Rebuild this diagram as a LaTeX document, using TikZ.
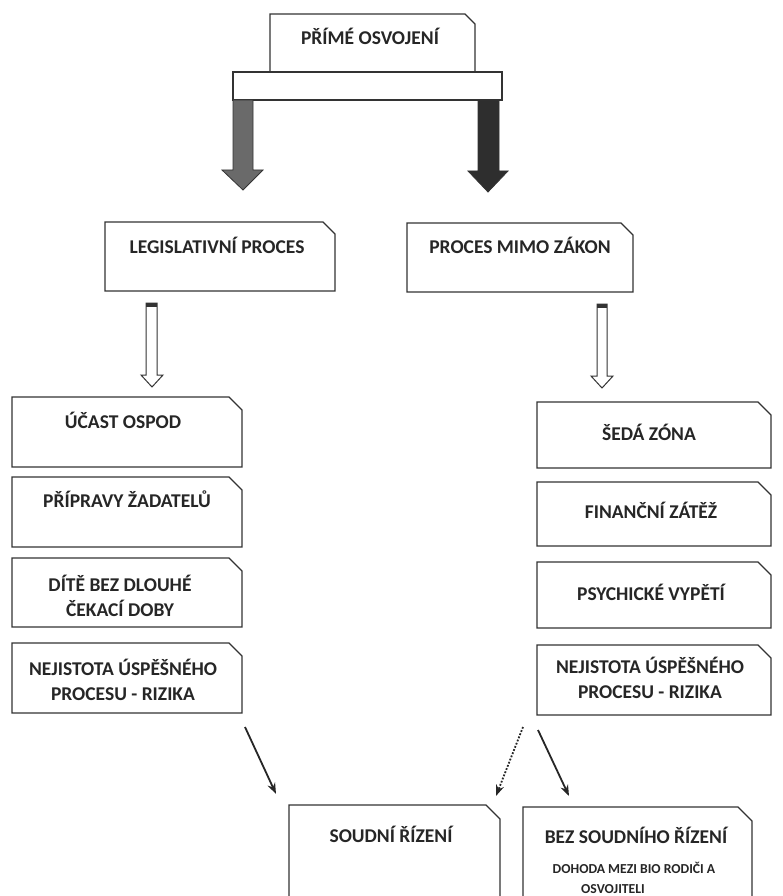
\documentclass[tikz,border=0pt]{standalone}
\usepackage{fontspec}
\setmainfont{Carlito}
\usetikzlibrary{arrows.meta,fit}
\definecolor{ink}{HTML}{333333}
\definecolor{arrL}{HTML}{6A6A6A}
\definecolor{arrR}{HTML}{2E2E2E}
\tikzset{
  boxline/.style={draw=ink, line width=1.3pt, line join=miter},
  lbl/.style={font=\fontsize{19.5}{23}\selectfont\bfseries, text=black!85, anchor=base, inner sep=0},
  smalllbl/.style={font=\fontsize{13.7}{16}\selectfont\bfseries, text=black!85, anchor=base, inner sep=0},
  area/.style={inner sep=0, draw=none},
  blockL/.style={draw=ink, line width=0.8pt, fill=arrL},
  blockR/.style={draw=ink, line width=0.8pt, fill=arrR},
  hollowarr/.style={draw=ink, line width=1pt, fill=white, line join=miter},
  capfill/.style={fill=ink},
  conn/.style={draw=black!85, line width=1.8pt, -{Stealth[length=11pt,width=8pt]}},
  dotconn/.style={draw=black!85, line width=1.8pt, dash pattern=on 1.8pt off 1.6pt, -{Stealth[length=11pt,width=8pt]}},
}
\newcommand\cutbox[6]{%
  \coordinate (#1-a) at (#2,#3); \coordinate (#1-b) at (#4,#5);
  \node[area, fit=(#1-a)(#1-b)] (#1) {};
  \draw[boxline] (#2,#5) -- (#2,#3) -- ({#4-#6},#3) -- (#4,{#3+#6}) -- (#4,#5) -- cycle;
}
\newcommand\openbox[6]{%
  \coordinate (#1-a) at (#2,#3); \coordinate (#1-b) at (#4,#5);
  \node[area, fit=(#1-a)(#1-b)] (#1) {};
  \draw[boxline] (#2,#5) -- (#2,#3) -- ({#4-#6},#3) -- (#4,{#3+#6}) -- (#4,#5);
}
\begin{document}
\begin{tikzpicture}[x=1pt,y=-1pt]
\fill[white] (0,0) rectangle (782,896);
\useasboundingbox (0,0) rectangle (782,896);

% top
\cutbox{top}{270}{14}{475}{72}{10}
\node[lbl] (toptxt) at (370,45) {PŘÍMÉ OSVOJENÍ};
\draw[boxline, fill=white] (233,72) rectangle (502,100);
\coordinate (bar-a) at (233,72); \coordinate (bar-b) at (502,100);
\node[area, fit=(bar-a)(bar-b)] (bar) {};

% big block arrows
\draw[blockL] (233,100) -- (253,100) -- (253,170) -- (263,170) -- (243,190) -- (222,170) -- (233,170) -- cycle;
\draw[blockR] (478,100) -- (499,100) -- (499,171) -- (508,171) -- (488,192) -- (468,171) -- (478,171) -- cycle;

% second row
\cutbox{leg}{105}{222}{335}{291}{12}
\node[lbl] (legtxt) at (217,253) {LEGISLATIVNÍ PROCES};
\cutbox{mimo}{407}{223}{633}{292}{12}
\node[lbl] (mimotxt) at (520,253) {PROCES MIMO ZÁKON};

% hollow arrows
\draw[hollowarr] (146,303) -- (157,303) -- (157,375) -- (163,375) -- (152,387) -- (141,375) -- (146,375) -- cycle;
\fill[capfill] (146,303) rectangle (157,307);
\draw[hollowarr] (597,304) -- (607,304) -- (607,376) -- (613,376) -- (602,388) -- (591,376) -- (597,376) -- cycle;
\fill[capfill] (597,304) rectangle (607,308);

% left column
\cutbox{l1}{12}{397}{242}{467}{13}
\node[lbl] (l1t) at (123,428) {ÚČAST OSPOD};
\cutbox{l2}{12}{477}{242}{547}{13}
\node[lbl] (l2t) at (127,507) {PŘÍPRAVY ŽADATELŮ};
\cutbox{l3}{12}{558}{242}{627}{13}
\node[lbl] (l3t) at (120,591) {DÍTĚ BEZ DLOUHÉ};
\node[lbl] (l3u) at (120,616) {ČEKACÍ DOBY};
\cutbox{l4}{12}{643}{242}{713}{13}
\node[lbl] (l4t) at (123,675) {NEJISTOTA ÚSPĚŠNÉHO};
\node[lbl] (l4u) at (123,700) {PROCESU - RIZIKA};

% right column
\cutbox{r1}{537}{402}{771}{468}{13}
\node[lbl] (r1t) at (649,440) {ŠEDÁ ZÓNA};
\cutbox{r2}{537}{482}{771}{546}{13}
\node[lbl] (r2t) at (651,518) {FINANČNÍ ZÁTĚŽ};
\cutbox{r3}{537}{562}{771}{628}{13}
\node[lbl] (r3t) at (651,600) {PSYCHICKÉ VYPĚTÍ};
\cutbox{r4}{537}{645}{771}{715}{13}
\node[lbl] (r4t) at (650,673) {NEJISTOTA ÚSPĚŠNÉHO};
\node[lbl] (r4u) at (650,698) {PROCESU - RIZIKA};

% bottom boxes
\openbox{soud}{289}{805}{500}{900}{14}
\node[lbl] (soudt) at (391,842) {SOUDNÍ ŘÍZENÍ};
\openbox{bez}{523}{807}{752}{900}{14}
\node[lbl] (bezt) at (636,843) {BEZ SOUDNÍHO ŘÍZENÍ};
\node[smalllbl] (bezs) at (634,873) {DOHODA MEZI BIO RODIČI A};
\node[smalllbl] (bezu) at (613,893) {OSVOJITELI};

% bottom connectors
\coordinate (c1s) at (245,727); \coordinate (c1e) at (276,794);
\coordinate (c2s) at (523,727); \coordinate (c2e) at (496,796);
\coordinate (c3s) at (538,730); \coordinate (c3e) at (569,796);
\draw[conn] (c1s) -- (c1e);
\draw[dotconn] (c2s) -- (c2e);
\draw[conn] (c3s) -- (c3e);
\end{tikzpicture}
\end{document}
